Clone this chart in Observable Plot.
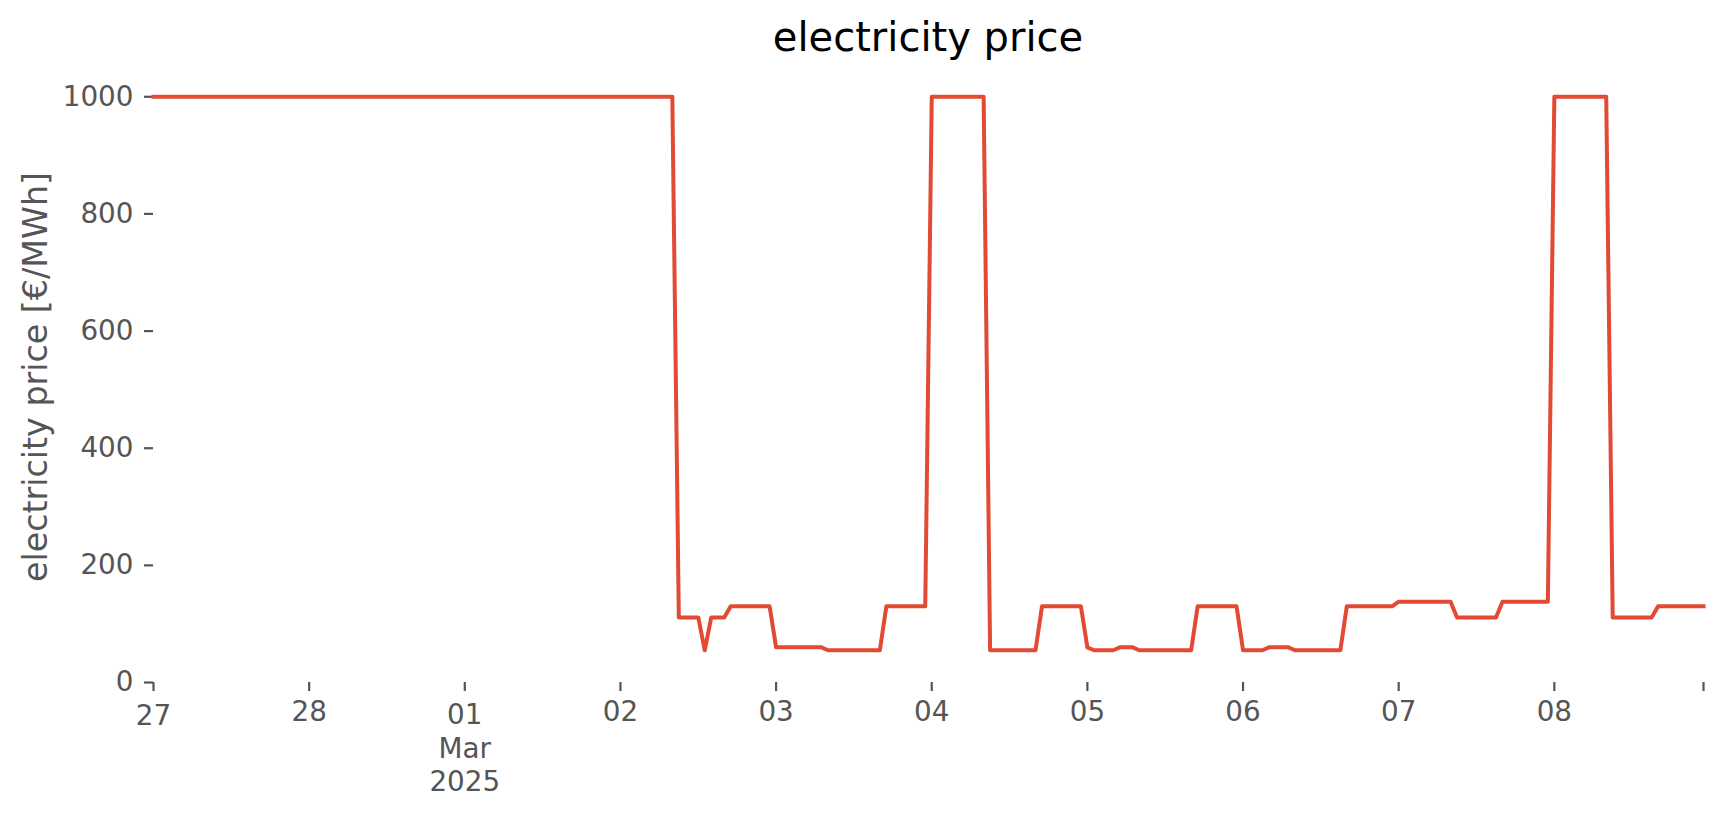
<!DOCTYPE html>
<html><head><meta charset="utf-8">
<script src="https://cdn.jsdelivr.net/npm/d3@7"></script>
<script src="https://cdn.jsdelivr.net/npm/@observablehq/plot@0.6"></script>
<style>
body{margin:0;background:#fff;}
#wrap{position:relative;width:1724px;height:815px;font-family:"DejaVu Sans";background:#fff;}
#title{position:absolute;left:153px;width:1550px;top:17px;text-align:center;font-size:40px;line-height:40px;color:#000;}
#chart{position:absolute;left:0;top:60px;}
</style></head><body>
<div id="wrap"><div id="title">electricity price</div><div id="chart"></div></div>
<script>
// hourly electricity price [€/MWh], one array per day (hours 00..23)
const pricesFeb27 = [1000,1000,1000,1000,1000,1000,1000,1000,1000,1000,1000,1000,1000,1000,1000,1000,1000,1000,1000,1000,1000,1000,1000,1000];
const pricesFeb28 = [1000,1000,1000,1000,1000,1000,1000,1000,1000,1000,1000,1000,1000,1000,1000,1000,1000,1000,1000,1000,1000,1000,1000,1000];
const pricesMar01 = [1000,1000,1000,1000,1000,1000,1000,1000,1000,1000,1000,1000,1000,1000,1000,1000,1000,1000,1000,1000,1000,1000,1000,1000];
const pricesMar02 = [1000,1000,1000,1000,1000,1000,1000,1000,1000,111,111,111,111,55,111,111,111,130,130,130,130,130,130,130];
const pricesMar03 = [60,60,60,60,60,60,60,60,55,55,55,55,55,55,55,55,55,130,130,130,130,130,130,130];
const pricesMar04 = [1000,1000,1000,1000,1000,1000,1000,1000,1000,55,55,55,55,55,55,55,55,130,130,130,130,130,130,130];
const pricesMar05 = [60,55,55,55,55,60,60,60,55,55,55,55,55,55,55,55,55,130,130,130,130,130,130,130];
const pricesMar06 = [55,55,55,55,60,60,60,60,55,55,55,55,55,55,55,55,130,130,130,130,130,130,130,130];
const pricesMar07 = [138,138,138,138,138,138,138,138,138,111,111,111,111,111,111,111,138,138,138,138,138,138,138,138];
const pricesMar08 = [1000,1000,1000,1000,1000,1000,1000,1000,1000,111,111,111,111,111,111,111,130,130,130,130,130,130,130,130];

const startTime = "2025-02-27T00:00Z";
const endTime = "2025-03-08T23:00Z";
const dayTicks = ["2025-02-27","2025-02-28","2025-03-01","2025-03-02","2025-03-03","2025-03-04","2025-03-05","2025-03-06","2025-03-07","2025-03-08"];
const dayLabels = ["27","28","01","02","03","04","05","06","07","08"];
const monthLabel = "Mar\n2025";
const yTicks = [0,200,400,600,800,1000];
const yLabel = "electricity price [€/MWh]";
const titleText = "electricity price";

document.getElementById("title").textContent = titleText;

const allPrices = [].concat(pricesFeb27, pricesFeb28, pricesMar01, pricesMar02, pricesMar03,
  pricesMar04, pricesMar05, pricesMar06, pricesMar07, pricesMar08);
const t0 = new Date(startTime).getTime();
const data = allPrices.map((p, i) => ({date: new Date(t0 + i * 3600000), price: p}));

const tickDates = dayTicks.map(d => new Date(d + "T00:00Z"));
const xTicksAll = tickDates.concat([new Date(endTime)]);
const labelData = tickDates.map((d, i) => ({date: d, label: dayLabels[i]}));
const labelsPlain = labelData.filter(d => d.label !== "27" && d.label !== "01");
const labelFirst = labelData.filter(d => d.label === "27");
const labelMonth = labelData.filter(d => d.label === "01").map(d => ({date: d.date, label: d.label + "\n" + monthLabel}));

const fs = 27.8;
const chart = Plot.plot({
  width: 1724,
  height: 755,
  marginLeft: 153,
  marginRight: 21,
  marginTop: 7,
  marginBottom: 133,
  style: {fontFamily: "DejaVu Sans", fontSize: fs + "px", color: "#555555", background: "#ffffff"},
  x: {type: "utc", domain: [new Date(startTime), new Date(endTime)]},
  y: {domain: [0, 1050]},
  marks: [
    Plot.axisY({ticks: yTicks, tickFormat: d3.format("d"), tickSize: 9, tickPadding: 11, strokeWidth: 2.2, fontSize: fs, label: null, fill: "#555555", stroke: "#555555"}),
    Plot.axisX({ticks: xTicksAll, tickSize: 9, tickFormat: () => "", strokeWidth: 2.2, label: null, stroke: "#555555"}),
    Plot.text(labelsPlain, {x: "date", text: "label", frameAnchor: "bottom", lineAnchor: "top", dy: 19, fill: "#555555", fontSize: fs}),
    Plot.text(labelFirst, {x: "date", text: "label", frameAnchor: "bottom", lineAnchor: "top", dy: 22.3, fill: "#555555", fontSize: fs}),
    Plot.text(labelMonth, {x: "date", text: "label", frameAnchor: "bottom", lineAnchor: "top", lineHeight: 1.2, dy: 18.3, fill: "#555555", fontSize: fs}),
    Plot.text([yLabel], {text: d => d, frameAnchor: "left", rotate: -90, dx: -117, dy: 2, textAnchor: "middle", lineAnchor: "middle", fill: "#555555", fontSize: 33.3}),
    Plot.line(data, {x: "date", y: "price", stroke: "#E24A33", strokeWidth: 4, strokeLinejoin: "round", strokeLinecap: "square"})
  ]
});
document.getElementById("chart").appendChild(chart);
</script>
</body></html>
